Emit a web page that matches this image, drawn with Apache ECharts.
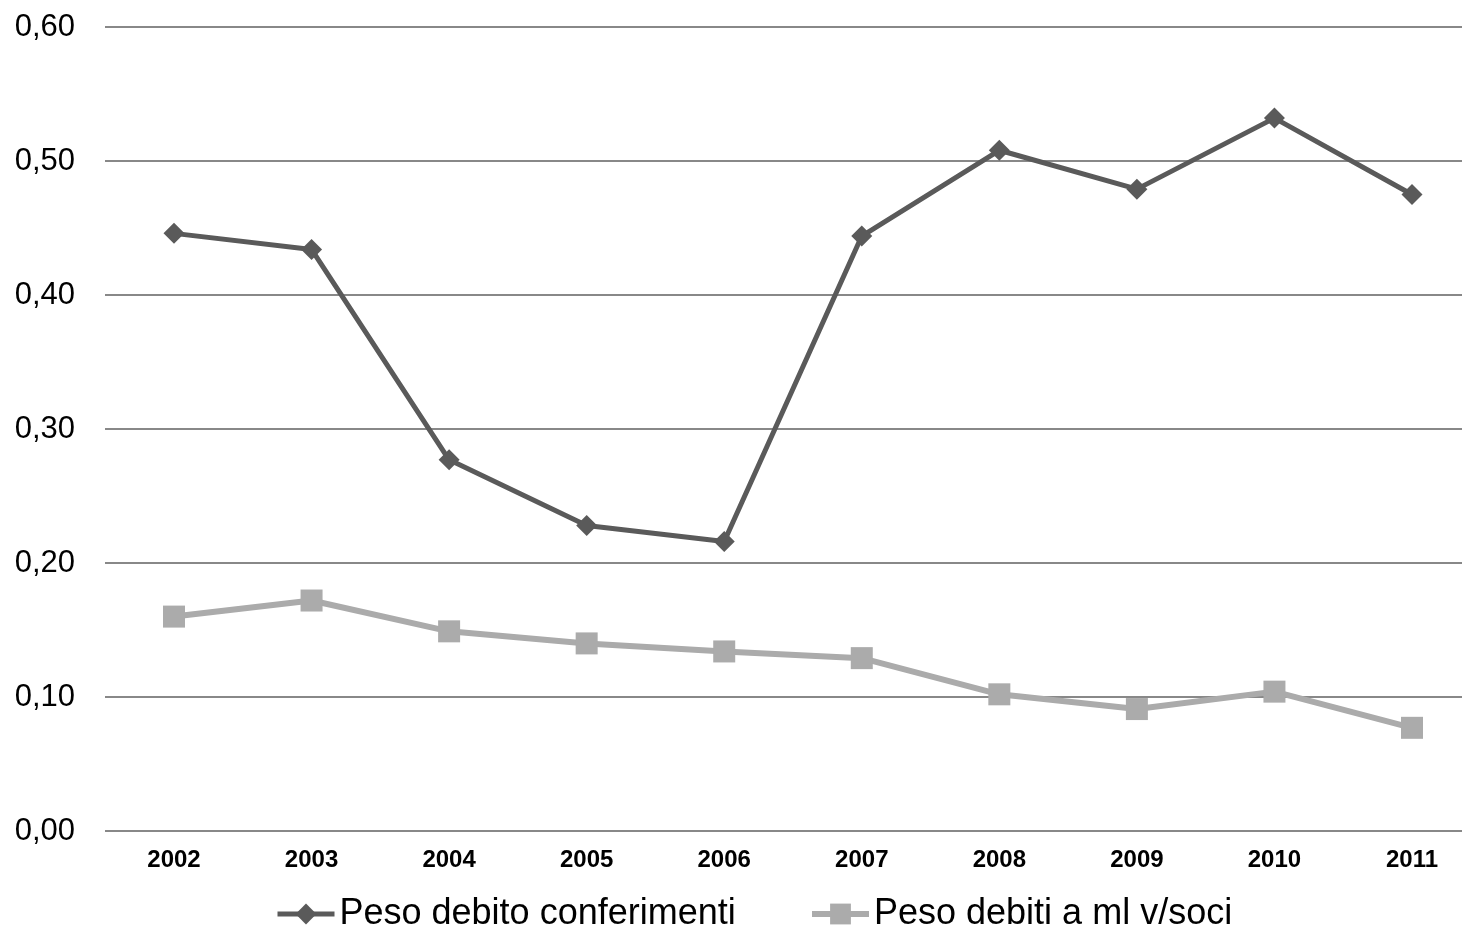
<!DOCTYPE html>
<html>
<head>
<meta charset="utf-8">
<script src="https://cdn.jsdelivr.net/npm/echarts@6/dist/echarts.min.js"></script>
<style>
  html, body { margin: 0; padding: 0; background: #ffffff; }
  #chart { width: 1462px; height: 936px; }
</style>
</head>
<body>
<div id="chart"></div>
<script>
// Years on the category axis
const years = ['2002', '2003', '2004', '2005', '2006', '2007', '2008', '2009', '2010', '2011'];

// Series values
const pesoDebitoConferimenti = [0.446, 0.434, 0.277, 0.228, 0.216, 0.444, 0.508, 0.479, 0.532, 0.475];
const pesoDebitiSoci = [0.160, 0.172, 0.149, 0.140, 0.134, 0.129, 0.102, 0.091, 0.104, 0.077];

// Series names shown in the legend
const seriesNames = ['Peso debito conferimenti', 'Peso debiti a ml v/soci'];

const FONT = 'Liberation Sans, Arial, sans-serif';
const DARK = '#5a5a5a';
const LIGHT = '#ababab';

const chart = echarts.init(document.getElementById('chart'), null, { renderer: 'canvas' });

const legendCommon = {
  top: 896,
  padding: 0,
  itemWidth: 57,
  itemHeight: 26,
  textStyle: { fontFamily: FONT, fontSize: 36, color: '#000000' }
};

chart.setOption({
  backgroundColor: '#ffffff',
  animation: false,
  // grid 0 carries the value scale and the full-width gridlines,
  // grid 1 carries the plotted years
  grid: [
    { left: 105, right: 0, top: 27, height: 804 },
    { left: 174, right: 50, top: 27, height: 804 }
  ],
  legend: [
    Object.assign({ data: [seriesNames[0]], left: 275, lineStyle: { width: 5 } }, legendCommon),
    Object.assign({ data: [seriesNames[1]], left: 809, lineStyle: { width: 6 } }, legendCommon)
  ],
  xAxis: [
    { type: 'value', gridIndex: 0, min: 0, max: 1, show: false },
    {
      type: 'category',
      gridIndex: 1,
      data: years,
      boundaryGap: false,
      axisLine: { show: false },
      axisTick: { show: false },
      splitLine: { show: false },
      axisLabel: {
        margin: 17,
        fontFamily: FONT,
        fontWeight: 'bold',
        fontSize: 24,
        color: '#000000'
      }
    }
  ],
  yAxis: [
    {
      type: 'value',
      gridIndex: 0,
      min: 0,
      max: 0.6,
      interval: 0.1,
      axisLine: { show: false },
      axisTick: { show: false },
      splitLine: { lineStyle: { color: '#888888', width: 2 } },
      axisLabel: {
        margin: 30,
        fontFamily: FONT,
        fontSize: 31,
        color: '#000000',
        formatter: v => v.toFixed(2).replace('.', ',')
      }
    },
    {
      type: 'value',
      gridIndex: 1,
      min: 0,
      max: 0.6,
      interval: 0.1,
      show: false,
      splitLine: { show: false }
    }
  ],
  series: [
    {
      name: seriesNames[0],
      type: 'line',
      xAxisIndex: 1,
      yAxisIndex: 1,
      data: pesoDebitoConferimenti,
      symbol: 'diamond',
      symbolSize: 21,
      color: DARK,
      lineStyle: { color: DARK, width: 5 },
      itemStyle: { color: DARK }
    },
    {
      name: seriesNames[1],
      type: 'line',
      xAxisIndex: 1,
      yAxisIndex: 1,
      data: pesoDebitiSoci,
      symbol: 'rect',
      symbolSize: 22,
      color: LIGHT,
      lineStyle: { color: LIGHT, width: 6 },
      itemStyle: { color: LIGHT }
    }
  ]
});
</script>
</body>
</html>
